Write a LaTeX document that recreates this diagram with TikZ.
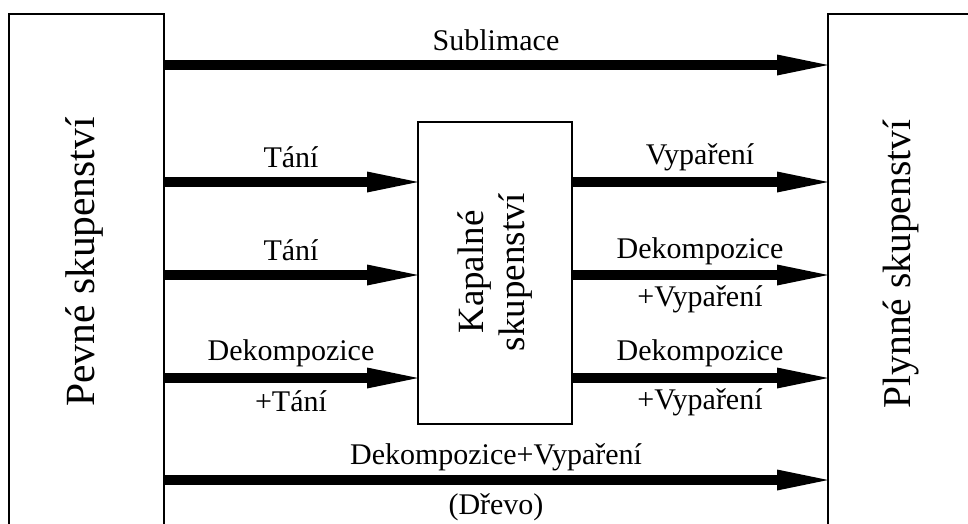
\documentclass[tikz,border=0pt]{standalone}
\usepackage{fontspec}
\setmainfont{Liberation Serif}
\usetikzlibrary{arrows.meta}
\begin{document}
\begin{tikzpicture}[x=1pt,y=-1pt,
  box/.style={draw, line width=2pt, outer sep=0pt, inner sep=0pt},
  flow/.style={line width=10.5pt, -{Triangle[length=51pt,width=21pt,line width'=0pt]}},
  lbl/.style={font=\fontsize{30}{36}\selectfont, anchor=base, inner sep=0pt},
  big/.style={rotate=90, inner sep=0pt}]
\useasboundingbox (0,0) rectangle (968,523);
\clip (0,0) rectangle (968,523);
\fill[white] (0,0) rectangle (968,523);
% boxes
\node[box, minimum width=155pt, minimum height=530pt] (L) at (86.5,279) {};
\node[box, minimum width=170pt, minimum height=530pt] (R) at (913,279) {};
\node[box, minimum width=154pt, minimum height=302pt] (K) at (495,273) {};
% box texts
\node[big, font=\fontsize{41.5}{48}\selectfont] (Lt) at (84,262) {Pevné skupenství};
\node[big, font=\fontsize{39.5}{48}\selectfont] (Rt) at (901,264) {Plynné skupenství};
\node[font=\fontsize{37}{41}\selectfont, rotate=90, align=center, inner sep=0pt] (Kt) at (495,272) {Kapalné\\skupenství};
% arrows
\draw[flow] (L.east |- 0,65) -- (R.west |- 0,65);
\draw[flow] (L.east |- 0,182) -- (K.west |- 0,182);
\draw[flow] (L.east |- 0,275) -- (K.west |- 0,275);
\draw[flow] (L.east |- 0,378) -- (K.west |- 0,378);
\draw[flow] (K.east |- 0,182) -- (R.west |- 0,182);
\draw[flow] (K.east |- 0,275) -- (R.west |- 0,275);
\draw[flow] (K.east |- 0,378) -- (R.west |- 0,378);
\draw[flow] (L.east |- 0,480) -- (R.west |- 0,480);
% labels
\node[lbl] (l1) at (496,50) {Sublimace};
\node[lbl] (l2) at (291,167) {Tání};
\node[lbl] (l3) at (291,260) {Tání};
\node[lbl] (l4) at (291,360) {Dekompozice};
\node[lbl] (l5) at (291,411) {+Tání};
\node[lbl] (r1) at (700,164) {Vypaření};
\node[lbl] (r2) at (700,258) {Dekompozice};
\node[lbl] (r3) at (700,306) {+Vypaření};
\node[lbl] (r4) at (700,360) {Dekompozice};
\node[lbl] (r5) at (700,409) {+Vypaření};
\node[lbl] (b1) at (496,464) {Dekompozice+Vypaření};
\node[lbl] (b2) at (496,514) {(Dřevo)};
\end{tikzpicture}
\end{document}
